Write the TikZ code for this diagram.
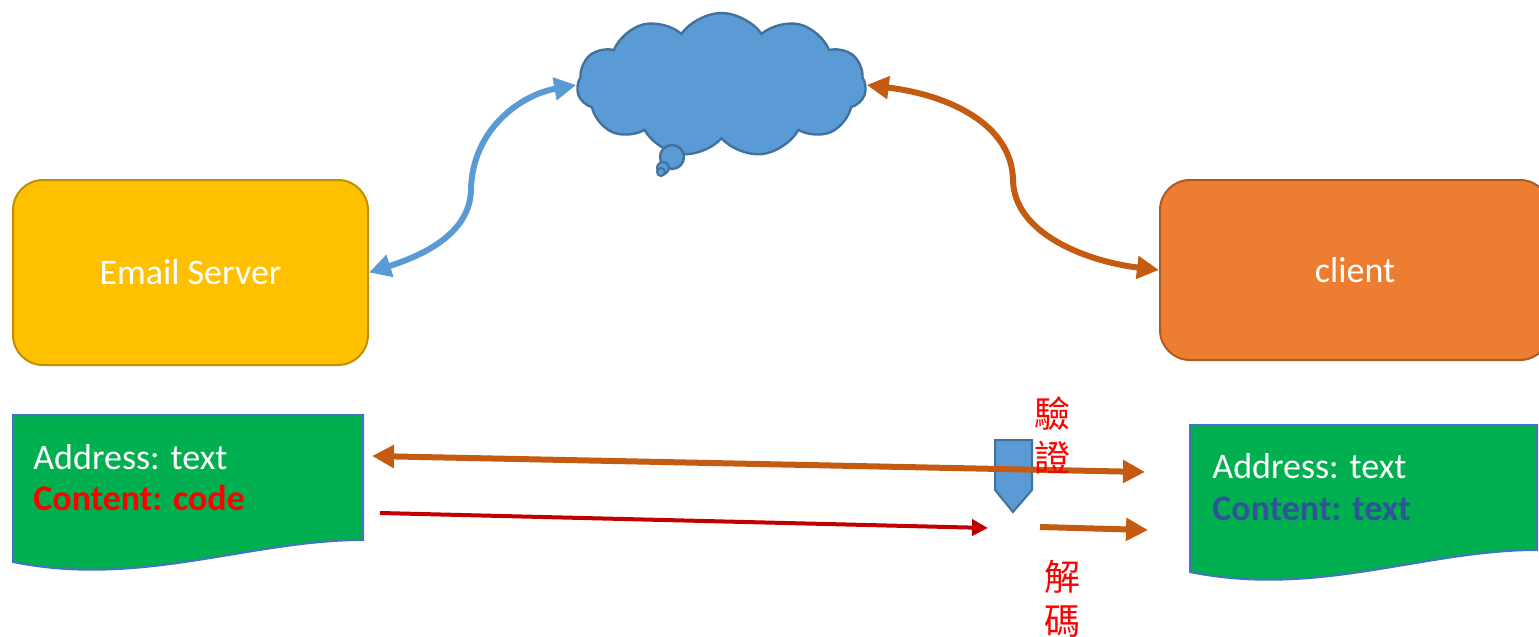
\documentclass[tikz,border=0pt]{standalone}
\usepackage{fontspec}
\setmainfont{Carlito}
\newfontfamily\cjk{Noto Sans CJK TC}
\usetikzlibrary{shapes.symbols,arrows.meta}
\definecolor{serverfill}{HTML}{FFC000}
\definecolor{serverline}{HTML}{BF9000}
\definecolor{clientfill}{HTML}{ED7D31}
\definecolor{clientline}{HTML}{AE5A21}
\definecolor{cloudfill}{HTML}{5B9BD5}
\definecolor{cloudline}{HTML}{41719C}
\definecolor{docfill}{HTML}{00B050}
\definecolor{docline}{HTML}{4472C4}
\definecolor{orangearr}{HTML}{C55A11}
\definecolor{redarr}{HTML}{C00000}
\definecolor{codered}{HTML}{FF0000}
\definecolor{textblue}{HTML}{2F5597}
\begin{document}
\begin{tikzpicture}[x=0.5pt,y=-0.5pt,
  box/.style={draw,rounded corners=15pt,line width=1pt,text=white,font=\fontsize{18}{21}\selectfont},
  doc/.style={draw=docline,fill=docfill,line width=1pt},
  doctext/.style={anchor=base west,inner sep=0pt,font=\fontsize{18}{21}\selectfont},
  thick arrow/.style={line width=3pt,{Triangle[length=11pt,width=11pt]}-{Triangle[length=11pt,width=11pt]}},
  thin arrow/.style={line width=2pt,-{Triangle[length=8pt,width=8pt]}},
  cjklabel/.style={text=codered,align=center,font=\cjk\fontsize{18}{22}\selectfont}]
\useasboundingbox (0,0) rectangle (1539,637);
\node[box,fill=serverfill,draw=serverline,minimum width=177.5pt,minimum height=92.5pt] (server) at (190.5,272.5) {Email Server};
\node[box,fill=clientfill,draw=clientline,minimum width=195pt,minimum height=90pt] (client) at (1355,270) {client};
\node[cloud,cloud puffs=11,cloud puff arc=110,cloud ignores aspect,draw=cloudline,fill=cloudfill,line width=1.2pt,minimum width=144.5pt,minimum height=72pt] (cloud) at (721.5,85) {};
\draw[draw=cloudline,fill=cloudfill,line width=1.2pt] (672,157) circle (6pt);
\draw[draw=cloudline,fill=cloudfill,line width=1pt] (663,168) circle (3pt);
\draw[draw=cloudline,fill=cloudfill,line width=1pt] (661,172) circle (2pt);
\draw[thick arrow,color=cloudfill] (server.east) .. controls (440,250) and (470,225) .. (471,190) .. controls (472,130) and (520,95) .. (cloud.west);
\draw[thick arrow,color=orangearr] (cloud.east) .. controls (950,95) and (1012,125) .. (1013,180) .. controls (1014,235) and (1090,262) .. (client.west);
\draw[doc] (13,415) -- (363,415) -- (363,540) .. controls (250,540) and (140,588) .. (13,562) -- cycle;
\draw[doc] (1190,425) -- (1537,425) -- (1537,550) .. controls (1424,550) and (1317,598) .. (1190,572) -- cycle;
\node[doctext,text=white] (leftaddr) at (33,469) {Address: text};
\node[doctext,text=codered,font=\fontsize{18}{21}\selectfont\bfseries] (leftcont) at (33,510) {Content: code};
\node[doctext,text=white] (rightaddr) at (1212,478) {Address: text};
\node[doctext,text=textblue,font=\fontsize{18}{21}\selectfont\bfseries] (rightcont) at (1212,520) {Content: text};
\draw[draw=cloudline,fill=cloudfill,line width=1pt] (995,440) -- (1032,440) -- (1032,490) -- (1013,512) -- (995,490) -- cycle;
\coordinate (sendstart) at (372,456);
\coordinate (sendend) at (1145,472);
\coordinate (codestart) at (380,513);
\coordinate (codeend) at (988,528);
\coordinate (textstart) at (1040,527);
\coordinate (textend) at (1148,530);
\draw[thick arrow,color=orangearr] (sendstart) -- (sendend);
\draw[thin arrow,color=redarr] (codestart) -- (codeend);
\draw[line width=3pt,color=orangearr,-{Triangle[length=11pt,width=11pt]}] (textstart) -- (textend);
\node[cjklabel] (verify) at (1052,435) {驗\\證};
\node[cjklabel] (decode) at (1062,599) {解\\碼};
\end{tikzpicture}
\end{document}
